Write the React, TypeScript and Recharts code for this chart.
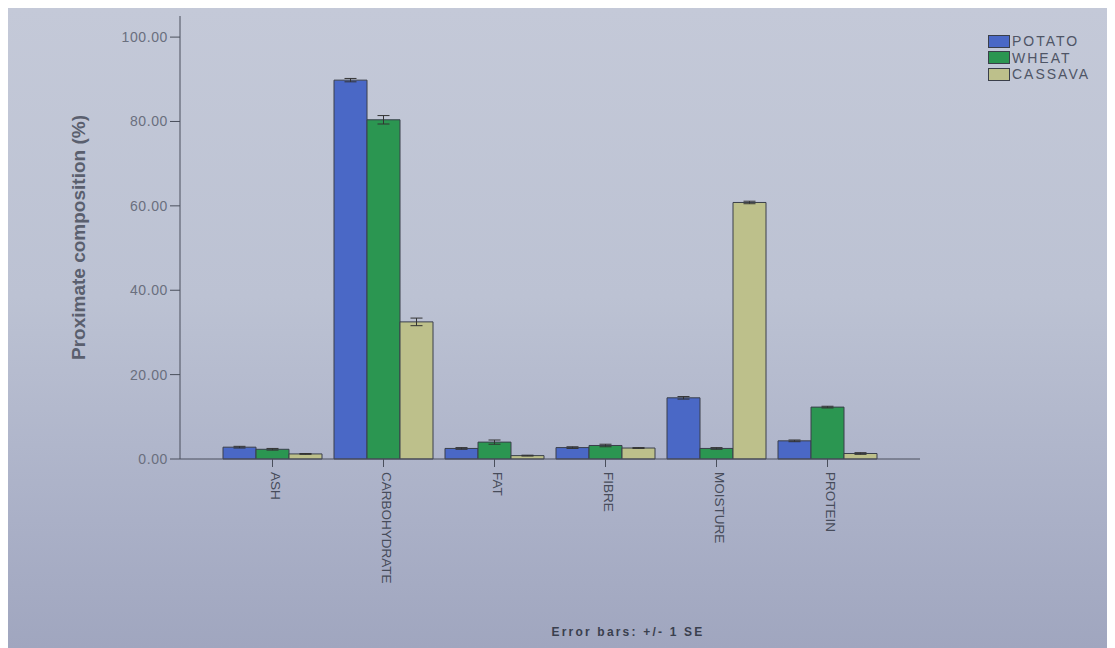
import React from 'react';
import { BarChart, Bar, XAxis, YAxis, ErrorBar, Label } from 'recharts';

const categories = ['ASH', 'CARBOHYDRATE', 'FAT', 'FIBRE', 'MOISTURE', 'PROTEIN'];
const potato = [2.8, 89.8, 2.5, 2.7, 14.5, 4.3];
const wheat = [2.3, 80.4, 4.0, 3.2, 2.5, 12.3];
const cassava = [1.2, 32.5, 0.8, 2.6, 60.8, 1.3];
const potatoSE = [0.2, 0.4, 0.2, 0.2, 0.3, 0.2];
const wheatSE = [0.2, 1.0, 0.5, 0.3, 0.2, 0.2];
const cassavaSE = [0.1, 0.9, 0.1, 0.1, 0.3, 0.2];
const yTicks = [0, 20, 40, 60, 80, 100];

const seriesNames = ['POTATO', 'WHEAT', 'CASSAVA'];
const seriesColors = ['#4a68c6', '#2b9651', '#bdc08b'];

const data = categories.map((c, i) => ({
  name: c,
  POTATO: potato[i],
  WHEAT: wheat[i],
  CASSAVA: cassava[i],
  pErr: potatoSE[i],
  wErr: wheatSE[i],
  cErr: cassavaSE[i],
}));

const FONT = '"Liberation Sans", Arial, sans-serif';

const XTick = (props: any) => {
  const { x, y, payload } = props;
  return (
    <g transform={`translate(${x},${y})`}>
      <text
        transform="rotate(90)"
        x={3}
        y={-3}
        dy="0.35em"
        textAnchor="start"
        fontFamily={FONT}
        fontSize={13.5}
        fill="#474c5a"
      >
        {payload.value}
      </text>
    </g>
  );
};

export default function App() {
  return (
    <div
      style={{
        position: 'relative',
        width: 1107,
        height: 640,
        background: 'linear-gradient(180deg, #c4c9d8 0%, #bcc2d3 45%, #aab0c7 80%, #a0a6bf 100%)',
        overflow: 'hidden',
      }}
    >
      <BarChart
        width={1107}
        height={640}
        data={data}
        margin={{ top: 8, right: 195, left: 58, bottom: 69 }}
        barCategoryGap={6}
        barGap={0}
      >
        <XAxis
          dataKey="name"
          height={120}
          interval={0}
          tick={<XTick />}
          tickLine={{ stroke: '#4a4f5c' }}
          tickSize={8}
          axisLine={{ stroke: '#4a4f5c' }}
          padding={{ left: 37, right: 37 }}
        />
        <YAxis
          width={114}
          domain={[0, 105]}
          ticks={yTicks}
          interval={0}
          tickFormatter={(v: number) => v.toFixed(2)}
          tick={{ fontFamily: FONT, fontSize: 14, fill: '#6a6f7e', letterSpacing: 0.6 }}
          tickLine={{ stroke: '#4a4f5c' }}
          tickSize={10}
          axisLine={{ stroke: '#4a4f5c' }}
        >
          <Label
            value="Proximate composition (%)"
            angle={-90}
            position="insideLeft"
            offset={12}
            style={{ textAnchor: 'middle', fontFamily: FONT, fontSize: 19, fontWeight: 'bold', fill: '#5a5f6e' }}
          />
        </YAxis>
        <Bar dataKey="POTATO" fill={seriesColors[0]} stroke="#3a3f4a" strokeWidth={1} isAnimationActive={false}>
          <ErrorBar dataKey="pErr" width={6} stroke="#333" strokeWidth={1} />
        </Bar>
        <Bar dataKey="WHEAT" fill={seriesColors[1]} stroke="#3a3f4a" strokeWidth={1} isAnimationActive={false}>
          <ErrorBar dataKey="wErr" width={6} stroke="#333" strokeWidth={1} />
        </Bar>
        <Bar dataKey="CASSAVA" fill={seriesColors[2]} stroke="#3a3f4a" strokeWidth={1} isAnimationActive={false}>
          <ErrorBar dataKey="cErr" width={6} stroke="#333" strokeWidth={1} />
        </Bar>
      </BarChart>
      <div
        style={{
          position: 'absolute',
          top: 25,
          left: 980,
          fontFamily: FONT,
          fontSize: 14,
          letterSpacing: 2,
          color: '#4f5566',
        }}
      >
        {seriesNames.map((n, i) => (
          <div key={n} style={{ display: 'flex', alignItems: 'center', height: 16.5 }}>
            <span
              style={{
                display: 'inline-block',
                width: 20,
                height: 11,
                background: seriesColors[i],
                border: '1px solid #3a3f4a',
                marginRight: 2,
              }}
            />
            <span>{n}</span>
          </div>
        ))}
      </div>
      <div
        style={{
          position: 'absolute',
          left: 0,
          width: 1240,
          top: 617,
          textAlign: 'center',
          fontFamily: FONT,
          fontSize: 12,
          fontWeight: 'bold',
          letterSpacing: 2.2,
          color: '#3a3f4e',
        }}
      >
        Error bars: +/- 1 SE
      </div>
    </div>
  );
}
